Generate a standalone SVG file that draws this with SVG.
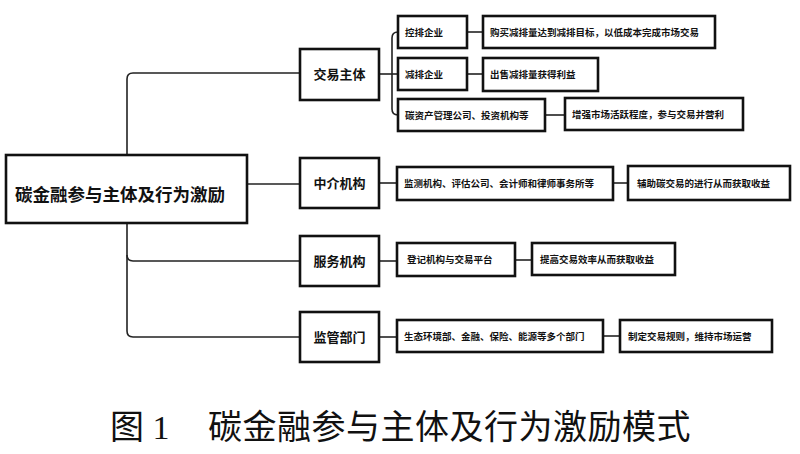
<svg xmlns="http://www.w3.org/2000/svg" width="800" height="454" viewBox="0 0 800 454">
<style>
.box{fill:#fff;stroke:#111;stroke-width:2.6}
.con{fill:none;stroke:#222;stroke-width:1.6}
.t{font-family:"Noto Sans CJK SC","Noto Sans",sans-serif;font-weight:bold;fill:#111}
.s{font-size:9.5px}
.m{font-size:13px}
.cap{font-family:"Liberation Serif","Noto Sans CJK SC",serif;font-size:34px;fill:#111}
</style>
<rect width="800" height="454" fill="#fff"/>
<g id="connectors">
<path class="con" d="M300,73 H133 Q127,73 127,79 V155"/>
<path class="con" d="M127,223 V331 Q127,337 133,337 H300"/>
<path class="con" d="M127,255 Q127,261 133,261 H300"/>
<path class="con" d="M247,184 H300"/>
<path class="con" d="M379,74 H392"/>
<path class="con" d="M398,32 Q392,32 392,38 V109 Q392,115 398,115"/>
<path class="con" d="M392,74 H398"/>
<path class="con" d="M467,32 H483"/>
<path class="con" d="M467,74 H483"/>
<path class="con" d="M545,115 H565"/>
<path class="con" d="M379,183 H397"/>
<path class="con" d="M613,183 H628"/>
<path class="con" d="M379,261 H397"/>
<path class="con" d="M515,260 H532"/>
<path class="con" d="M379,337 H397"/>
<path class="con" d="M603,336 H620"/>
</g>
<g id="root"><rect class="box" x="6" y="155" width="241" height="68"/><text class="t" x="15" y="196" font-size="17.5" dominant-baseline="middle">碳金融参与主体及行为激励</text></g>
<g id="n-jiaoyi"><rect class="box" x="300" y="49" width="79" height="51"/><text class="t m" x="339.5" y="75" text-anchor="middle" dominant-baseline="middle">交易主体</text></g>
<g id="n-zhongjie"><rect class="box" x="300" y="158" width="79" height="50"/><text class="t m" x="339.5" y="184" text-anchor="middle" dominant-baseline="middle">中介机构</text></g>
<g id="n-fuwu"><rect class="box" x="300" y="236" width="79" height="50"/><text class="t m" x="339.5" y="262" text-anchor="middle" dominant-baseline="middle">服务机构</text></g>
<g id="n-jianguan"><rect class="box" x="300" y="312" width="79" height="50"/><text class="t m" x="339.5" y="338" text-anchor="middle" dominant-baseline="middle">监管部门</text></g>
<g id="n-kongpai"><rect class="box" x="398" y="16" width="69" height="32"/><text class="t s" x="405" y="33" dominant-baseline="middle">控排企业</text></g>
<g id="n-kongpai-d"><rect class="box" x="483" y="16" width="232" height="32"/><text class="t s" x="490" y="33" dominant-baseline="middle">购买减排量达到减排目标，以低成本完成市场交易</text></g>
<g id="n-jianpai"><rect class="box" x="398" y="58" width="69" height="32"/><text class="t s" x="405" y="75" dominant-baseline="middle">减排企业</text></g>
<g id="n-jianpai-d"><rect class="box" x="483" y="58" width="115" height="33"/><text class="t s" x="490" y="75" dominant-baseline="middle">出售减排量获得利益</text></g>
<g id="n-tanzichan"><rect class="box" x="398" y="99" width="147" height="32"/><text class="t s" x="405" y="116" dominant-baseline="middle">碳资产管理公司、投资机构等</text></g>
<g id="n-tanzichan-d"><rect class="box" x="565" y="98" width="178" height="32"/><text class="t s" x="572" y="115" dominant-baseline="middle">增强市场活跃程度，参与交易并营利</text></g>
<g id="n-zhongjie-a"><rect class="box" x="397" y="167" width="216" height="33"/><text class="t s" x="404" y="184" dominant-baseline="middle">监测机构、评估公司、会计师和律师事务所等</text></g>
<g id="n-zhongjie-d"><rect class="box" x="628" y="166" width="162" height="34"/><text class="t s" x="637" y="184" dominant-baseline="middle">辅助碳交易的进行从而获取收益</text></g>
<g id="n-fuwu-a"><rect class="box" x="397" y="243" width="118" height="33"/><text class="t s" x="407" y="260" dominant-baseline="middle">登记机构与交易平台</text></g>
<g id="n-fuwu-d"><rect class="box" x="532" y="243" width="143" height="32"/><text class="t s" x="540" y="260" dominant-baseline="middle">提高交易效率从而获取收益</text></g>
<g id="n-jianguan-a"><rect class="box" x="397" y="320" width="206" height="32"/><text class="t s" x="404" y="337" dominant-baseline="middle">生态环境部、金融、保险、能源等多个部门</text></g>
<g id="n-jianguan-d"><rect class="box" x="620" y="320" width="152" height="32"/><text class="t s" x="628" y="337" dominant-baseline="middle">制定交易规则，维持市场运营</text></g>
<text class="cap" x="110" y="439">图 1<tspan x="208" letter-spacing="0.5">碳金融参与主体及行为激励模式</tspan></text>
</svg>
